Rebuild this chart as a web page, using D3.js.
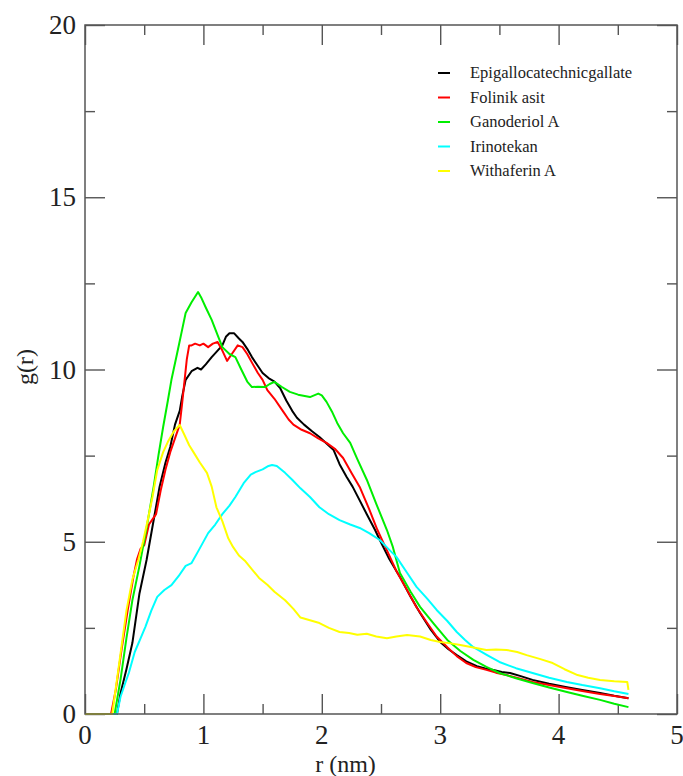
<!DOCTYPE html>
<html>
<head>
<meta charset="utf-8">
<script src="https://cdn.jsdelivr.net/npm/d3@7"></script>
<style>
  body { margin: 0; background: #fff; }
</style>
</head>
<body>
<div id="chart"></div>
<script>
// g(r) curves, r in nm
var seriesNames = ["Epigallocatechnicgallate", "Folinik asit", "Ganoderiol A", "Irinotekan", "Withaferin A"];
var seriesColors = ["#000000", "#ff0000", "#00ee00", "#00ffff", "#ffff00"];

var epiR = [0, 0.27, 0.30, 0.35, 0.40, 0.46, 0.52, 0.58, 0.63, 0.68, 0.72, 0.76, 0.80, 0.82, 0.85, 0.90, 0.95, 0.98, 1.02, 1.07, 1.12, 1.16, 1.19, 1.22, 1.26, 1.30, 1.33, 1.37, 1.41, 1.46, 1.50, 1.55, 1.60, 1.65, 1.70, 1.75, 1.79, 1.85, 1.92, 1.98, 2.04, 2.10, 2.15, 2.21, 2.26, 2.32, 2.38, 2.45, 2.49, 2.57, 2.66, 2.75, 2.83, 2.92, 3.00, 3.07, 3.14, 3.22, 3.31, 3.38, 3.45, 3.52, 3.59, 3.68, 3.78, 3.92, 4.07, 4.20, 4.35, 4.47, 4.59];
var epiG = [0, 0, 0.6, 1.3, 2.06, 3.5, 4.47, 5.63, 6.6, 7.3, 7.75, 8.4, 8.8, 9.2, 9.7, 9.95, 10.05, 10.0, 10.15, 10.36, 10.55, 10.7, 10.95, 11.05, 11.05, 10.9, 10.8, 10.6, 10.36, 10.1, 9.9, 9.75, 9.65, 9.45, 9.1, 8.8, 8.6, 8.4, 8.2, 8.04, 7.85, 7.66, 7.25, 6.88, 6.6, 6.2, 5.8, 5.34, 5.05, 4.5, 3.98, 3.4, 2.93, 2.45, 2.09, 1.88, 1.71, 1.53, 1.39, 1.32, 1.28, 1.22, 1.19, 1.1, 0.99, 0.88, 0.78, 0.7, 0.61, 0.53, 0.46];

var folR = [0, 0.22, 0.26, 0.31, 0.36, 0.41, 0.44, 0.47, 0.50, 0.54, 0.57, 0.60, 0.64, 0.68, 0.72, 0.76, 0.80, 0.82, 0.86, 0.88, 0.90, 0.93, 0.97, 1.00, 1.04, 1.08, 1.12, 1.16, 1.20, 1.24, 1.29, 1.33, 1.37, 1.41, 1.46, 1.50, 1.54, 1.60, 1.67, 1.72, 1.76, 1.83, 1.90, 1.97, 2.04, 2.11, 2.18, 2.25, 2.32, 2.40, 2.47, 2.55, 2.63, 2.72, 2.80, 2.89, 2.97, 3.06, 3.14, 3.22, 3.30, 3.39, 3.47, 3.56, 3.67, 3.78, 3.92, 4.07, 4.20, 4.35, 4.47, 4.59];
var folG = [0, 0, 0.7, 1.9, 3.0, 4.0, 4.5, 4.8, 4.9, 5.5, 5.65, 5.8, 6.5, 7.1, 7.6, 8.0, 8.4, 9.0, 10.3, 10.7, 10.7, 10.75, 10.7, 10.75, 10.65, 10.75, 10.8, 10.55, 10.25, 10.45, 10.7, 10.65, 10.45, 10.2, 9.9, 9.7, 9.4, 9.15, 8.8, 8.55, 8.4, 8.25, 8.15, 8.0, 7.87, 7.7, 7.43, 7.0, 6.59, 5.95, 5.34, 4.75, 4.15, 3.6, 3.1, 2.64, 2.25, 1.94, 1.68, 1.48, 1.36, 1.28, 1.2, 1.13, 1.03, 0.93, 0.84, 0.75, 0.67, 0.58, 0.52, 0.46];

var ganR = [0, 0.25, 0.30, 0.35, 0.40, 0.46, 0.52, 0.58, 0.62, 0.66, 0.70, 0.73, 0.78, 0.82, 0.85, 0.90, 0.955, 0.98, 1.02, 1.07, 1.12, 1.16, 1.22, 1.27, 1.32, 1.37, 1.41, 1.46, 1.52, 1.56, 1.60, 1.66, 1.73, 1.80, 1.90, 1.97, 2.00, 2.04, 2.09, 2.13, 2.18, 2.24, 2.30, 2.38, 2.46, 2.55, 2.60, 2.66, 2.75, 2.83, 2.95, 3.06, 3.17, 3.28, 3.39, 3.50, 3.64, 3.78, 3.92, 4.07, 4.20, 4.35, 4.47, 4.59];
var ganG = [0, 0, 1.0, 2.2, 3.3, 4.3, 5.4, 6.6, 7.5, 8.33, 9.1, 9.7, 10.5, 11.15, 11.64, 11.95, 12.25, 12.1, 11.8, 11.44, 11.0, 10.65, 10.45, 10.36, 10.0, 9.65, 9.49, 9.5, 9.49, 9.58, 9.64, 9.5, 9.35, 9.27, 9.2, 9.3, 9.25, 9.06, 8.75, 8.45, 8.15, 7.87, 7.4, 6.8, 6.1, 5.34, 4.85, 4.09, 3.55, 3.11, 2.6, 2.15, 1.83, 1.57, 1.37, 1.19, 1.04, 0.9, 0.77, 0.64, 0.53, 0.41, 0.3, 0.2];

var iriR = [0, 0.27, 0.30, 0.34, 0.37, 0.42, 0.47, 0.51, 0.56, 0.61, 0.67, 0.73, 0.79, 0.85, 0.90, 0.96, 1.04, 1.10, 1.16, 1.22, 1.27, 1.34, 1.40, 1.44, 1.50, 1.55, 1.58, 1.62, 1.69, 1.75, 1.82, 1.90, 1.98, 2.06, 2.15, 2.24, 2.32, 2.40, 2.49, 2.56, 2.63, 2.72, 2.80, 2.89, 2.97, 3.06, 3.14, 3.21, 3.28, 3.40, 3.50, 3.64, 3.78, 3.92, 4.07, 4.20, 4.35, 4.47, 4.59];
var iriG = [0, 0, 0.5, 0.9, 1.19, 1.8, 2.2, 2.53, 3.0, 3.4, 3.6, 3.74, 4.0, 4.3, 4.38, 4.75, 5.25, 5.5, 5.8, 6.05, 6.3, 6.7, 6.95, 7.02, 7.1, 7.2, 7.23, 7.2, 7.0, 6.8, 6.55, 6.3, 6.0, 5.8, 5.63, 5.5, 5.4, 5.25, 5.05, 4.8, 4.56, 4.1, 3.69, 3.35, 3.02, 2.7, 2.38, 2.15, 1.94, 1.7, 1.51, 1.33, 1.19, 1.05, 0.93, 0.84, 0.75, 0.66, 0.58];

var withR = [0, 0.23, 0.27, 0.31, 0.35, 0.40, 0.45, 0.49, 0.53, 0.57, 0.61, 0.66, 0.70, 0.75, 0.80, 0.84, 0.88, 0.92, 0.97, 1.03, 1.07, 1.11, 1.16, 1.21, 1.25, 1.30, 1.35, 1.41, 1.47, 1.54, 1.60, 1.69, 1.76, 1.82, 1.90, 1.98, 2.06, 2.15, 2.23, 2.30, 2.38, 2.46, 2.55, 2.63, 2.72, 2.83, 2.92, 3.00, 3.09, 3.17, 3.28, 3.39, 3.47, 3.56, 3.65, 3.73, 3.84, 3.95, 4.05, 4.16, 4.25, 4.35, 4.47, 4.58, 4.59];
var withG = [0, 0, 1.0, 2.0, 3.0, 3.9, 4.47, 5.0, 5.63, 6.3, 7.08, 7.6, 7.9, 8.2, 8.39, 8.1, 7.8, 7.58, 7.3, 7.0, 6.6, 6.0, 5.6, 5.1, 4.85, 4.6, 4.45, 4.2, 3.95, 3.75, 3.55, 3.3, 3.05, 2.8, 2.72, 2.64, 2.5, 2.38, 2.35, 2.3, 2.33, 2.25, 2.2, 2.25, 2.29, 2.25, 2.15, 2.09, 2.05, 2.0, 1.93, 1.86, 1.87, 1.86, 1.8, 1.71, 1.6, 1.48, 1.3, 1.13, 1.05, 0.99, 0.95, 0.93, 0.7];

var xTicks = [0, 1, 2, 3, 4, 5];
var yTicks = [0, 5, 10, 15, 20];

var seriesR = [epiR, folR, ganR, iriR, withR];
var seriesG = [epiG, folG, ganG, iriG, withG];

var W = 683, H = 776;
var margin = { top: 25, right: 6, bottom: 62, left: 85 };
var width = W - margin.left - margin.right;
var height = H - margin.top - margin.bottom;
var serif = "'Liberation Serif', 'Times New Roman', Times, 'DejaVu Serif', serif";

var svg = d3.select("#chart").append("svg")
  .attr("width", W)
  .attr("height", H)
  .attr("font-family", serif);
var g = svg.append("g").attr("transform", "translate(" + margin.left + "," + margin.top + ")");

var x = d3.scaleLinear().domain([0, 5]).range([0, width]);
var y = d3.scaleLinear().domain([0, 20]).range([height, 0]);

var frameColor = "#555";
var textColor = "#222";

// inward ticks on all four sides, major 20px and minor 10px
function drawAxis(axis, transform) {
  g.append("g")
    .attr("transform", transform)
    .call(axis)
    .call((s) => s.select(".domain").remove())
    .call((s) => s.selectAll("line").attr("stroke", frameColor).attr("stroke-width", 1.4))
    .call((s) => s.selectAll("text").remove());
}

var xMinor = d3.range(0.5, 5, 1);
var yMinor = d3.range(2.5, 20, 5);

drawAxis(d3.axisBottom(x).tickValues(xTicks).tickSize(-20), "translate(0," + height + ")");
drawAxis(d3.axisBottom(x).tickValues(xMinor).tickSize(-10), "translate(0," + height + ")");
drawAxis(d3.axisTop(x).tickValues(xTicks).tickSize(-20), "translate(0,0)");
drawAxis(d3.axisTop(x).tickValues(xMinor).tickSize(-10), "translate(0,0)");
drawAxis(d3.axisLeft(y).tickValues(yTicks).tickSize(-20), "translate(0,0)");
drawAxis(d3.axisLeft(y).tickValues(yMinor).tickSize(-10), "translate(0,0)");
drawAxis(d3.axisRight(y).tickValues(yTicks).tickSize(-20), "translate(" + width + ",0)");
drawAxis(d3.axisRight(y).tickValues(yMinor).tickSize(-10), "translate(" + width + ",0)");

// tick labels
g.append("g")
  .selectAll("text")
  .data(xTicks)
  .enter()
  .append("text")
  .attr("x", (d) => x(d))
  .attr("y", height + 30)
  .attr("text-anchor", "middle")
  .attr("font-size", 27)
  .attr("fill", textColor)
  .text((d) => d);

g.append("g")
  .selectAll("text")
  .data(yTicks)
  .enter()
  .append("text")
  .attr("x", -9)
  .attr("y", (d) => y(d))
  .attr("dy", "0.34em")
  .attr("text-anchor", "end")
  .attr("font-size", 27)
  .attr("fill", textColor)
  .text((d) => d);

svg.append("text")
  .attr("x", margin.left + x(2.2))
  .attr("y", 772)
  .attr("text-anchor", "middle")
  .attr("font-size", 24)
  .attr("fill", textColor)
  .text("r (nm)");

svg.append("text")
  .attr("transform", "translate(33,367) rotate(-90)")
  .attr("text-anchor", "middle")
  .attr("font-size", 24)
  .attr("fill", textColor)
  .text("g(r)");

// curves
var line = d3.line()
  .x((d) => x(d[0]))
  .y((d) => y(d[1]));

seriesNames.forEach(function (name, i) {
  var pts = d3.zip(seriesR[i], seriesG[i]);
  g.append("path")
    .datum(pts)
    .attr("d", line)
    .attr("fill", "none")
    .attr("stroke", seriesColors[i])
    .attr("stroke-width", 2)
    .attr("stroke-linejoin", "round");
});

// frame
g.append("rect")
  .attr("width", width)
  .attr("height", height)
  .attr("fill", "none")
  .attr("stroke", frameColor)
  .attr("stroke-width", 1.5);

// legend
var legend = svg.append("g").attr("transform", "translate(438,73)");
var row = legend.selectAll("g")
  .data(seriesNames)
  .enter()
  .append("g")
  .attr("transform", (d, i) => "translate(0," + i * 24.5 + ")");

row.append("line")
  .attr("x1", 0)
  .attr("x2", 12)
  .attr("stroke", (d, i) => seriesColors[i])
  .attr("stroke-width", 2);

row.append("text")
  .attr("x", 32)
  .attr("dy", "0.33em")
  .attr("font-size", 16.5)
  .attr("fill", textColor)
  .text((d) => d);
</script>
</body>
</html>
